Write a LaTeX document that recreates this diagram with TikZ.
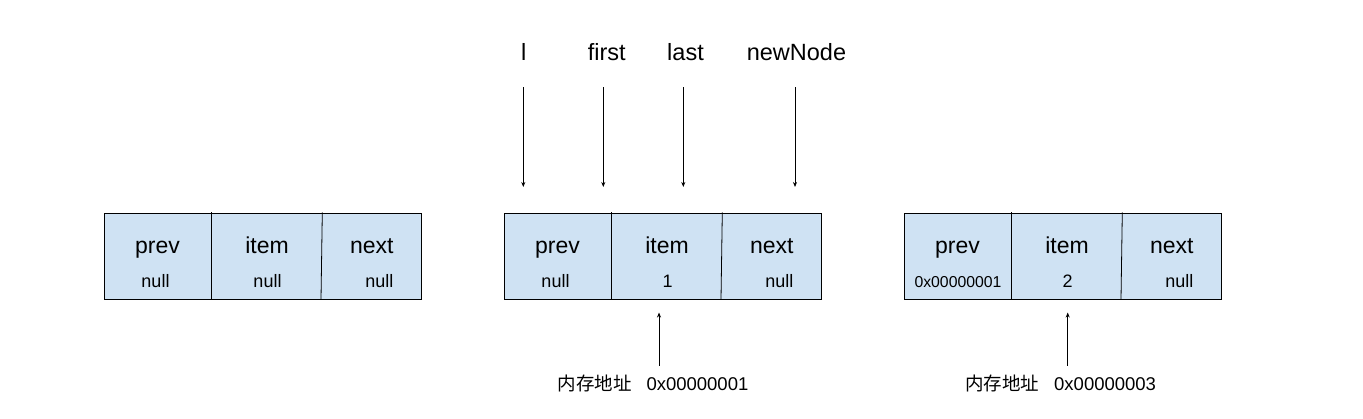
\documentclass[tikz,border=0pt]{standalone}
\usepackage{fontspec}
\setmainfont{Liberation Sans}
\newfontfamily\cjk{Noto Sans CJK SC}
\usetikzlibrary{arrows.meta}
\definecolor{cellblue}{HTML}{CFE2F3}
\begin{document}
\begin{tikzpicture}[x=1pt,y=-1pt,
  boxframe/.style={draw=black, fill=cellblue, line width=0.8pt, minimum width=317.6pt, minimum height=86.2pt, anchor=north west, inner sep=0pt},
  divider/.style={draw=black, line width=0.8pt},
  fieldname/.style={anchor=base, inner sep=0pt, font=\fontsize{23}{27}\selectfont},
  fieldval/.style={anchor=base, inner sep=0pt, font=\fontsize{18}{21}\selectfont},
  hexval/.style={anchor=base, inner sep=0pt, font=\fontsize{15.8}{18}\selectfont},
  varlabel/.style={anchor=base, inner sep=0pt, font=\fontsize{23.5}{27}\selectfont},
  addrlabel/.style={anchor=base west, inner sep=0pt, font=\fontsize{18.5}{22}\selectfont},
  ptr/.style={draw=black, line width=0.8pt, -{Stealth[length=5pt,width=4pt]}}
]
\useasboundingbox (0,0) rectangle (1363,418);

% boxes and dividers
\foreach \i/\ox in {1/103.3, 2/503.3, 3/903.3} {
  \node[boxframe] (box\i) at (\ox+0.4,212.7) {};
  \draw[divider] (\ox+108.4,212.3) -- (\ox+108.4,299.3);
  \draw[divider] (\ox+219,212.3) -- (\ox+217.7,299.3);
}

% box 1
\node[fieldname] (b1prev) at (157.5,253.3) {prev};
\node[fieldname] (b1item) at (267.1,253.3) {item};
\node[fieldname] (b1next) at (371.8,253.3) {next};
\node[fieldval] (b1prevv) at (155.5,287.3) {null};
\node[fieldval] (b1itemv) at (267.5,287.3) {null};
\node[fieldval] (b1nextv) at (379.3,287.3) {null};

% box 2
\node[fieldname] (b2prev) at (557.5,253.3) {prev};
\node[fieldname] (b2item) at (667.1,253.3) {item};
\node[fieldname] (b2next) at (771.8,253.3) {next};
\node[fieldval] (b2prevv) at (555.5,287.3) {null};
\node[fieldval] (b2itemv) at (667.5,287.3) {1};
\node[fieldval] (b2nextv) at (779.3,287.3) {null};

% box 3
\node[fieldname] (b3prev) at (957.5,253.3) {prev};
\node[fieldname] (b3item) at (1067.1,253.3) {item};
\node[fieldname] (b3next) at (1171.8,253.3) {next};
\node[hexval] (b3prevv) at (958,287.3) {0x00000001};
\node[fieldval] (b3itemv) at (1067.7,287.3) {2};
\node[fieldval] (b3nextv) at (1179.3,287.3) {null};

% variable labels
\node[varlabel] (vl) at (523.8,60.7) {l};
\node[varlabel] (vfirst) at (606.7,60.7) {first};
\node[varlabel] (vlast) at (685.5,60.7) {last};
\node[varlabel] (vnew) at (796.5,60.7) {newNode};

\coordinate (lS) at (523.3,87.3);   \coordinate (lE) at (523.3,187);
\coordinate (fS) at (603.3,87.3);   \coordinate (fE) at (603.3,187);
\coordinate (laS) at (683.3,87.3);  \coordinate (laE) at (683.3,187);
\coordinate (nS) at (795,87.3);     \coordinate (nE) at (795,187);
\draw[ptr] (lS) -- (lE);
\draw[ptr] (fS) -- (fE);
\draw[ptr] (laS) -- (laE);
\draw[ptr] (nS) -- (nE);

% memory addresses
\node[addrlabel] (addr1) at (557.3,390.7) {{\cjk 内存地址}\hspace{15pt}0x00000001};
\node[addrlabel] (addr3) at (965,390.7) {{\cjk 内存地址}\hspace{15pt}0x00000003};
\coordinate (a1S) at (659,365.5);    \coordinate (a1E) at (659,312.5);
\coordinate (a3S) at (1067.7,365.5); \coordinate (a3E) at (1067.7,312.5);
\draw[ptr] (a1S) -- (a1E);
\draw[ptr] (a3S) -- (a3E);
\end{tikzpicture}
\end{document}
